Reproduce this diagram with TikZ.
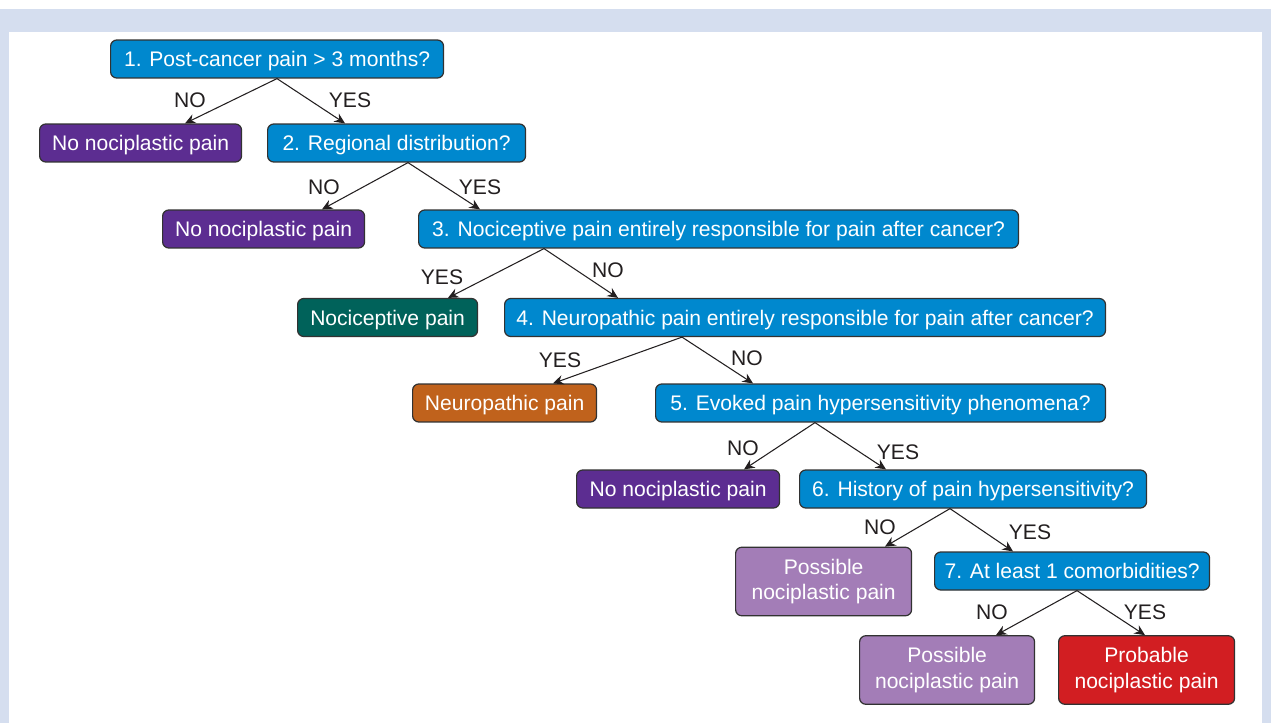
\documentclass[tikz,border=0pt]{standalone}
\usepackage{fontspec}
\setmainfont{Liberation Sans}
\usetikzlibrary{arrows.meta,calc}

\definecolor{framebg}{RGB}{213,222,239}
\definecolor{qblue}{RGB}{0,136,206}
\definecolor{nopurple}{RGB}{92,45,145}
\definecolor{nocteal}{RGB}{0,98,90}
\definecolor{neurorange}{RGB}{192,98,28}
\definecolor{posslilac}{RGB}{163,125,183}
\definecolor{probred}{RGB}{210,30,34}
\definecolor{boxline}{RGB}{50,50,50}
\definecolor{inkgray}{RGB}{35,31,32}

\tikzset{
  box/.style={draw=boxline, line width=0.7pt, rounded corners=3.5pt,
    text=white, minimum height=0.76cm, inner sep=2pt, anchor=west,
    text height=11.1pt, text depth=2.5pt,
    align=center, font=\fontsize{12}{14.4}\selectfont},
  quest/.style={box, fill=qblue},
  nonoci/.style={box, fill=nopurple},
  twoline/.style={minimum height=1.37cm, text height=, text depth=},
  arr/.style={draw=inkgray, line width=0.6pt,
    -{Stealth[length=6pt,width=5.5pt,inset=2pt]}},
  lbl/.style={text=inkgray, inner sep=0pt, font=\fontsize{12}{14.4}\selectfont}
}

\begin{document}
\begin{tikzpicture}[x=0.02cm, y=-0.02cm]
  \useasboundingbox (0,0) rectangle (1271,723);
  \fill[framebg] (0,9) rectangle (1271,723);
  \fill[white] (9,32) rectangle (1262,723);

  % questions and outcomes, placed by their left edge
  \node[quest, minimum width=6.66cm] (q1) at (110,59) {1. Post-cancer pain > 3 months?};
  \node[nonoci, minimum width=4.04cm] (n1) at (39,143) {No nociplastic pain};
  \node[quest, minimum width=5.16cm] (q2) at (267,143) {2. Regional distribution?};
  \node[nonoci, minimum width=4.04cm] (n2) at (162,229) {No nociplastic pain};
  \node[quest, minimum width=12.0cm] (q3) at (418,229) {3. Nociceptive pain entirely responsible for pain after cancer?};
  \node[box, fill=nocteal, minimum width=3.6cm] (noci) at (297,317.5) {Nociceptive pain};
  \node[quest, minimum width=12.02cm] (q4) at (504,317.5) {4. Neuropathic pain entirely responsible for pain after cancer?};
  \node[box, fill=neurorange, minimum width=3.68cm] (neuro) at (412,403) {Neuropathic pain};
  \node[quest, minimum width=9.0cm] (q5) at (655,403) {5. Evoked pain hypersensitivity phenomena?};
  \node[nonoci, minimum width=4.06cm] (n3) at (576,489) {No nociplastic pain};
  \node[quest, minimum width=6.94cm] (q6) at (799,489) {6. History of pain hypersensitivity?};
  \node[box, twoline, fill=posslilac, minimum width=3.52cm] (poss1) at (735,581.5) {Possible\\nociplastic pain};
  \node[quest, minimum width=5.5cm] (q7) at (934,571) {7. At least 1 comorbidities?};
  \node[box, twoline, fill=posslilac, minimum width=3.5cm] (poss2) at (859,670) {Possible\\nociplastic pain};
  \node[box, twoline, fill=probred, minimum width=3.52cm] (prob) at (1058,670) {Probable\\nociplastic pain};

  % connectors: source/offset/target/offset (offsets from the left edges)
  \foreach \src/\sx/\dst/\dx in {
      q1/167/n1/146,   q1/167/q2/78,
      q2/141/n2/160,   q2/141/q3/62,
      q3/126/noci/151, q3/126/q4/114,
      q4/178/neuro/141, q4/178/q5/98,
      q5/160/n3/168,   q5/160/q6/87,
      q6/151/poss1/150, q6/151/q7/79,
      q7/143/poss2/137, q7/143/prob/87
    } {
      \draw[arr] ($(\src.south west)+(\sx,0)$) -- ($(\dst.north west)+(\dx,0)$);
    }

  % answers
  \foreach \name/\x/\y/\answer in {
      a1n/190/100/NO,  a1y/350/100/YES,
      a2n/324/187/NO,  a2y/480/187/YES,
      a3y/442/277/YES, a3n/608/270/NO,
      a4y/560/360/YES, a4n/747/358/NO,
      a5n/743/448/NO,  a5y/898/452/YES,
      a6n/880/527/NO,  a6y/1030/532/YES,
      a7n/992/612/NO,  a7y/1145/612/YES
    } {
      \node[lbl] (\name) at (\x,\y) {\answer};
    }
\end{tikzpicture}
\end{document}
